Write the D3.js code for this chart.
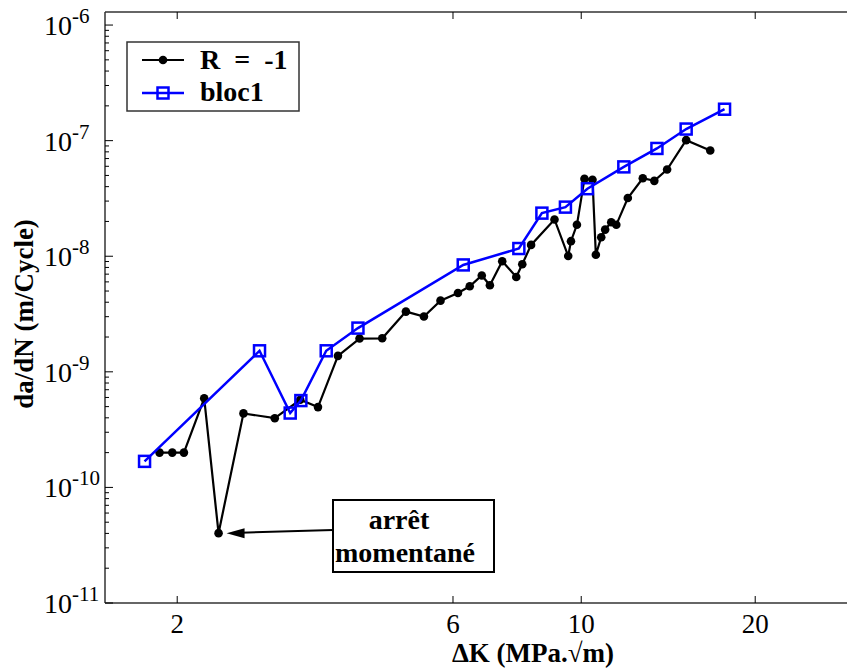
<!DOCTYPE html>
<html><head><meta charset="utf-8">
<script src="https://cdn.jsdelivr.net/npm/d3@7"></script>
<style>body{margin:0;background:#fff}svg{display:block}svg text{font-family:"Times New Roman","Liberation Serif",Tinos,serif !important}</style>
</head><body><svg id="c" width="847" height="668"></svg>
<script>
// Series R = -1 : [ΔK, da/dN]
const r1K = [1.864,1.961,2.054,2.227,2.358,2.604,2.950,3.265,3.504,3.794,4.135,4.526,4.974,5.344,5.709,6.12,6.414,6.729,6.95,7.30,7.72,7.907,8.19,8.99,9.495,9.60,9.83,10.13,10.46,10.60,10.83,11.00,11.27,11.50,12.04,12.78,13.38,14.08,15.19,16.72];
const r1V = [2.0e-10,2.0e-10,2.0e-10,5.9e-10,4.02e-11,4.37e-10,3.97e-10,5.73e-10,4.95e-10,1.375e-9,1.94e-9,1.95e-9,3.32e-9,3.01e-9,4.13e-9,4.81e-9,5.50e-9,6.82e-9,5.61e-9,9.05e-9,6.62e-9,8.53e-9,1.253e-8,2.08e-8,1.004e-8,1.35e-8,1.87e-8,4.67e-8,4.59e-8,1.03e-8,1.46e-8,1.70e-8,1.97e-8,1.87e-8,3.19e-8,4.73e-8,4.49e-8,5.63e-8,1.01e-7,8.22e-8];
// Series bloc1
const b1K = [1.756,2.776,3.137,3.273,3.621,4.109,6.25,7.80,8.55,9.39,10.25,11.85,13.52,15.19,17.70];
const b1V = [1.68e-10,1.52e-9,4.40e-10,5.64e-10,1.52e-9,2.39e-9,8.41e-9,1.166e-8,2.36e-8,2.66e-8,3.84e-8,5.93e-8,8.56e-8,1.26e-7,1.87e-7];
const xTicks = [2,6,10,20];
const yExps = [-11,-10,-9,-8,-7,-6];
const seriesNames = ["R = -1","bloc1"];
const annotation = ["arrêt","momentané"];
const arrowTarget = [2.358,4.02e-11];

const svg = d3.select("#c");
function txt(sel, size, weight){
  return sel.append("text").attr("font-family","Liberation Serif").attr("font-size",size).attr("font-weight",weight).attr("fill","#000");
}
const L=105, R=857, T=12, B=603;
const x = d3.scaleLog().domain([1.5,30]).range([L,R]);
const y = d3.scaleLog().domain([1e-11, Math.pow(10,-5.887)]).range([B,T]);
const axisCol="#333";

// frame
svg.append("line").attr("x1",L).attr("x2",L).attr("y1",T).attr("y2",B).attr("stroke",axisCol).attr("stroke-width",1.5);
svg.append("line").attr("x1",L).attr("x2",R).attr("y1",B).attr("y2",B).attr("stroke",axisCol).attr("stroke-width",1.5);
svg.append("line").attr("x1",L).attr("x2",R).attr("y1",T).attr("y2",T).attr("stroke",axisCol).attr("stroke-width",1.5);

// x ticks
xTicks.forEach(v=>{
  const px=x(v);
  svg.append("line").attr("x1",px).attr("x2",px).attr("y1",B).attr("y2",B-7).attr("stroke","#000").attr("stroke-width",1);
  svg.append("line").attr("x1",px).attr("x2",px).attr("y1",T).attr("y2",T+7).attr("stroke","#000").attr("stroke-width",1);
  txt(svg,27,"normal").attr("x",px).attr("y",633).attr("text-anchor","middle").text(v);
});
// y ticks
yExps.forEach(e=>{
  const py=y(Math.pow(10,e));
  svg.append("line").attr("x1",L).attr("x2",L+8).attr("y1",py).attr("y2",py).attr("stroke","#000").attr("stroke-width",1);
  if(e<-6){
    for(let m=2;m<=9;m++){
      const pm=y(m*Math.pow(10,e));
      svg.append("line").attr("x1",L).attr("x2",L+4).attr("y1",pm).attr("y2",pm).attr("stroke","#000").attr("stroke-width",1);
    }
  }
  const t=txt(svg,28,"normal").attr("x",44).attr("y",py+10);
  t.append("tspan").text("10");
  t.append("tspan").attr("dy",-12).attr("font-size",21).text(String(e));
});

// axis titles
txt(svg,27,"bold").attr("x",533).attr("y",662).attr("text-anchor","middle").text("ΔK (MPa.√m)");
txt(svg,27,"bold").attr("transform","translate(33,314) rotate(-90)").attr("text-anchor","middle").text("da/dN (m/Cycle)");

const line = d3.line().x(d=>x(d[0])).y(d=>y(d[1]));
const r1 = r1K.map((k,i)=>[k,r1V[i]]);
const b1 = b1K.map((k,i)=>[k,b1V[i]]);

svg.append("path").datum(r1).attr("d",line).attr("fill","none").attr("stroke","#000").attr("stroke-width",2.2);
svg.selectAll(".dot").data(r1).enter().append("circle").attr("cx",d=>x(d[0])).attr("cy",d=>y(d[1])).attr("r",4.3).attr("fill","#000");

svg.append("path").datum(b1).attr("d",line).attr("fill","none").attr("stroke","#0000ff").attr("stroke-width",2.5);
svg.selectAll(".sq").data(b1).enter().append("rect").attr("x",d=>x(d[0])-5.5).attr("y",d=>y(d[1])-5.5).attr("width",11).attr("height",11).attr("fill","none").attr("stroke","#0000ff").attr("stroke-width",2.5);

// legend
svg.append("rect").attr("x",127).attr("y",42).attr("width",172).attr("height",69).attr("fill","#fff").attr("stroke",axisCol).attr("stroke-width",1.5);
svg.append("line").attr("x1",142).attr("x2",184).attr("y1",60).attr("y2",60).attr("stroke","#000").attr("stroke-width",2.2);
svg.append("circle").attr("cx",163).attr("cy",60).attr("r",4.3).attr("fill","#000");
svg.append("line").attr("x1",142).attr("x2",184).attr("y1",93).attr("y2",93).attr("stroke","#0000ff").attr("stroke-width",2.5);
svg.append("rect").attr("x",157.5).attr("y",87.5).attr("width",11).attr("height",11).attr("fill","none").attr("stroke","#0000ff").attr("stroke-width",2.5);
txt(svg,28,"bold").attr("x",200).attr("y",69).style("white-space","pre").text("R  =  -1");
txt(svg,28,"bold").attr("x",200).attr("y",101).text(seriesNames[1]);

// annotation
svg.append("rect").attr("x",333).attr("y",500).attr("width",161).attr("height",72).attr("fill","#fff").attr("stroke","#000").attr("stroke-width",2);
txt(svg,28,"bold").attr("x",399).attr("y",529).attr("text-anchor","middle").text(annotation[0]);
txt(svg,28,"bold").attr("x",405).attr("y",562).attr("text-anchor","middle").text(annotation[1]);
const tx=x(arrowTarget[0])+8, ty=y(arrowTarget[1]);
svg.append("line").attr("x1",333).attr("y1",530).attr("x2",tx+14).attr("y2",ty-0.5).attr("stroke","#000").attr("stroke-width",2);
svg.append("path").attr("d",`M${tx},${ty} L${tx+18},${ty-5} L${tx+18},${ty+5} Z`).attr("fill","#000");
</script></body></html>
